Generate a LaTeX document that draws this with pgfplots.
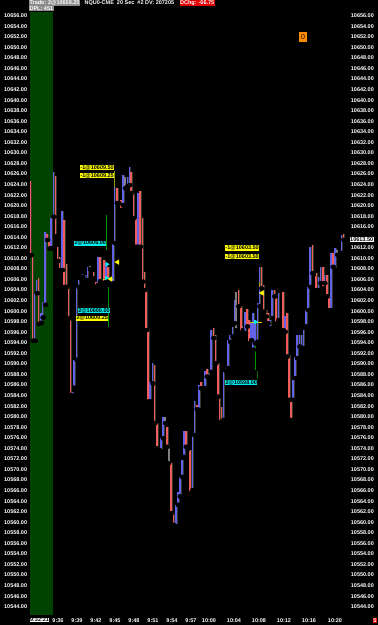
\documentclass[border=0pt]{standalone}
\usepackage{pgfplots}
\pgfplotsset{compat=1.18}
\usepackage{pgfplotstable}
\usepackage{fontspec}
\setmainfont{Liberation Sans}
\definecolor{bblue}{RGB}{98,98,232}
\definecolor{bred}{RGB}{240,92,92}
\definecolor{bgray}{RGB}{128,128,128}
\definecolor{bshadow}{RGB}{52,58,44}
\definecolor{dgreen}{RGB}{0,66,0}
\definecolor{tyellow}{RGB}{255,255,0}
\definecolor{tcyan}{RGB}{0,240,240}
\definecolor{torange}{RGB}{255,140,0}
\definecolor{tgreen}{RGB}{0,150,0}
\newcommand{\tf}{\fontsize{5.5}{6}\selectfont\bfseries}

\pgfplotstableread{
x lo hi
34.7 10594.4 10603.4
36.7 10603.4 10605.9
40.9 10597.8 10599.6
42.7 10598.8 10601.8
45.0 10601.2 10615.0
51.3 10611.9 10617.6
53.5 10617.9 10626.4
62.0 10607.8 10619.0
72.5 10583.8 10584.7
74.0 10585.5 10590.8
76.3 10590.8 10604.6
78.5 10604.6 10605.9
82.3 10606.5 10607.0
85.0 10605.9 10606.9
87.3 10605.9 10608.4
97.7 10605.0 10610.3
105.7 10605.6 10609.1
112.7 10605.3 10612.7
114.5 10612.9 10623.6
122.7 10620.1 10625.8
127.3 10623.7 10625.5
129.3 10623.9 10627.4
137.7 10612.2 10622.4
150.0 10582.9 10586.6
152.5 10586.3 10590.1
161.0 10573.4 10575.9
162.9 10575.9 10580.0
175.7 10559.2 10563.3
177.7 10563.3 10565.8
179.7 10564.9 10568.6
181.7 10568.6 10571.8
183.7 10572.4 10577.3
192.3 10566.1 10576.4
194.3 10576.5 10582.9
198.7 10581.3 10586.0
204.7 10585.4 10588.7
211.0 10588.5 10596.4
223.3 10579.4 10588.5
227.7 10589.2 10594.5
230.0 10594.2 10595.5
232.3 10595.2 10597.1
234.3 10597.7 10602.1
245.0 10595.8 10599.9
251.0 10594.5 10597.7
253.0 10592.7 10599.6
255.0 10593.9 10598.3
257.3 10594.2 10601.5
259.3 10600.9 10608.4
270.0 10596.8 10598.3
272.0 10598.7 10604.0
278.3 10598.3 10603.4
284.7 10596.1 10599.0
293.0 10583.2 10587.0
294.9 10587.3 10591.4
297.0 10591.1 10595.5
299.3 10593.3 10595.5
301.3 10593.0 10595.5
303.5 10593.0 10596.4
305.7 10597.1 10600.2
307.7 10600.2 10604.6
310.0 10604.6 10612.2
318.3 10604.0 10606.5
320.3 10605.3 10608.4
324.3 10605.3 10606.9
330.7 10600.2 10611.0
335.0 10607.8 10611.9
341.3 10611.0 10614.5
}\blueBars

\pgfplotstableread{
x lo hi
30.7 10610.6 10624.6
32.7 10594.4 10610.6
38.5 10597.6 10606.2
47.0 10613.5 10614.6
49.3 10611.9 10613.8
55.5 10614.2 10625.6
57.4 10609.5 10612.2
59.6 10607.8 10610.2
64.3 10604.6 10617.2
66.5 10604.6 10609.0
68.5 10598.6 10604.5
70.5 10584.1 10598.7
93.3 10606.2 10607.4
95.7 10604.6 10605.6
100.0 10605.7 10610.3
103.8 10605.3 10609.7
108.0 10605.9 10608.4
116.7 10620.5 10623.3
121.0 10619.2 10621.1
131.0 10622.4 10626.4
133.3 10617.6 10622.4
135.7 10612.2 10617.6
140.0 10612.2 10622.7
142.5 10605.6 10617.6
144.3 10604.0 10607.5
145.9 10596.4 10604.3
148.0 10582.9 10596.4
154.5 10578.8 10589.8
156.7 10574.0 10578.8
158.7 10573.7 10574.3
166.7 10574.3 10578.1
171.0 10561.7 10571.2
173.3 10559.5 10561.7
185.7 10574.3 10577.3
190.0 10565.5 10573.7
196.7 10581.4 10582.2
200.7 10585.4 10586.5
206.7 10587.6 10589.0
213.3 10594.9 10596.8
215.3 10590.1 10595.5
217.7 10583.8 10590.1
219.5 10578.9 10583.8
221.4 10579.1 10581.9
225.7 10588.7 10589.2
238.3 10600.9 10604.0
240.7 10595.8 10600.9
246.9 10597.1 10600.4
249.0 10593.9 10598.3
261.3 10604.3 10608.4
263.5 10599.9 10605.0
265.8 10599.0 10600.2
267.8 10597.7 10599.6
274.3 10602.8 10604.0
276.2 10597.7 10602.5
282.7 10596.4 10603.7
286.7 10591.4 10599.6
288.7 10583.2 10591.7
291.0 10579.4 10583.2
312.3 10607.2 10612.6
316.0 10604.0 10607.2
322.7 10604.3 10608.4
326.7 10602.8 10606.9
328.7 10600.2 10602.8
332.7 10608.4 10611.0
343.3 10613.5 10614.6
}\redBars

\pgfplotstableread{
x lo hi
80.7 10606.2 10606.7
90.0 10608.0 10608.5
119.3 10620.5 10620.8
125.0 10623.3 10625.5
165.0 10578.8 10580.0
169.0 10571.2 10574.6
187.7 10573.7 10574.3
202.7 10585.1 10585.4
209.0 10587.6 10588.2
236.0 10596.4 10603.7
242.7 10596.4 10597.2
314.0 10606.9 10607.5
337.0 10610.7 10611.6
339.3 10610.5 10611.3
345.3 10613.4 10613.8
}\grayBars

\pgfplotsset{
  base/.style={
    at={(30pt,10pt)}, anchor=south west, scale only axis,
    width=317pt, height=603pt,
    xmin=30, xmax=347, ymin=10542.43, ymax=10656.70,
    axis line style={draw=none}, major tick length=0pt,
    scaled y ticks=false, scaled x ticks=false,
    /pgf/number format/assume math mode=true,
    /pgf/number format/fixed,
    /pgf/number format/fixed zerofill,
    /pgf/number format/precision=2,
    /pgf/number format/1000 sep={},
    clip=false,
  },
  bars/.style={only marks, mark=none, forget plot,
    error bars/.cd, y dir=plus, y explicit, error mark=none,
    error bar style={#1}},
}

\begin{document}
\begin{tikzpicture}[x=1pt,y=1pt]
\fill[black] (0,0) rectangle (378,625);
% left axis with data
\begin{axis}[base,
  ytick={10544,10546,...,10656},
  yticklabel pos=left,
  yticklabel style={font=\tf, text=white, anchor=east, inner sep=0pt, xshift=-2.7pt},
  xtick={58,77,96,115,134,153,172,191,209,234,259,284,309,335},
  xticklabels={9:36,9:39,9:42,9:45,9:48,9:51,9:54,9:57,10:00,10:04,10:08,10:12,10:16,10:20},
  xticklabel style={font=\tf, text=white, anchor=north, inner sep=0pt, yshift=-3pt},
]
\fill[dgreen] (axis cs:30,10542.43) rectangle (axis cs:52.7,10656.70);
% shadow columns
\addplot[bars={draw=bshadow, line width=0.6pt}] table[x expr=\thisrow{x}+1.1, y=lo, y error plus expr=\thisrow{hi}-\thisrow{lo}] {\blueBars};
\addplot[bars={draw=bshadow, line width=0.6pt}] table[x expr=\thisrow{x}+1.1, y=lo, y error plus expr=\thisrow{hi}-\thisrow{lo}] {\redBars};
\addplot[bars={draw=bblue, line width=1.6pt}] table[x=x, y=lo, y error plus expr=\thisrow{hi}-\thisrow{lo}] {\blueBars};
\addplot[bars={draw=bred, line width=1.6pt}] table[x=x, y=lo, y error plus expr=\thisrow{hi}-\thisrow{lo}] {\redBars};
\addplot[bars={draw=bgray, line width=1.4pt}] table[x=x, y=lo, y error plus expr=\thisrow{hi}-\thisrow{lo}] {\grayBars};
% trade lines
\addplot[tgreen, line width=0.6pt, forget plot] coordinates {(106,10618.2) (106,10611.6)};
\addplot[tgreen, line width=0.6pt, forget plot] coordinates {(108.3,10604.6) (108.3,10597.0)};
\addplot[tgreen, line width=0.6pt, forget plot] coordinates {(255,10593.4) (255,10588.8)};
\addplot[tgreen!70!black, line width=0.6pt, forget plot] coordinates {(257.3,10588.6) (257.3,10587.2)};
\addplot[tyellow!60!black, line width=0.5pt, forget plot] coordinates {(114.3,10626.6) (114.3,10623.6)};
\addplot[tyellow!60!black, line width=0.5pt, forget plot] coordinates {(259.5,10605.5) (259.5,10604.5)};
\addplot[tyellow!80!black, line width=0.5pt, forget plot] coordinates {(100,10606.1) (113,10606.1)};
\addplot[tyellow!80!black, line width=0.5pt, forget plot] coordinates {(250,10597.95) (262,10597.95)};
% trade markers
\addplot[only marks, mark=triangle*, mark size=2.6pt, mark options={rotate=90, fill=tyellow, draw=tyellow}, forget plot]
  coordinates {(117.5,10609.3) (110.5,10606.1) (262,10603.45)};
\addplot[only marks, mark=triangle*, mark size=2.2pt, mark options={rotate=-90, fill=tcyan, draw=tcyan}, forget plot]
  coordinates {(107,10608.9) (106.5,10606.3) (255.5,10597.95)};
\end{axis}
% right axis labels (10614.00 is hidden behind the current price box)
\begin{axis}[base,
  ytick={10544,10546,...,10612,10616,10618,...,10656},
  yticklabel pos=right, xtick=\empty,
  yticklabel style={font=\tf, text=white, anchor=west, inner sep=0pt, xshift=3.7pt},
]
\addplot[draw=none, forget plot] coordinates {(40,10600)};
\end{axis}
% header
\node[anchor=north west, fill=black!45, text=white, inner sep=0.4pt, font=\tf] at (29,625) {Trade: 2@10659.25};
\node[anchor=north west, text=white, inner sep=0.4pt, font=\tf] at (84,625) {NQU0-CME\ \ 20 Sec\ \ \#2 DV: 207205};
\node[anchor=north west, fill=red!90!black, text=white, inner sep=0.4pt, font=\tf] at (179.5,625) {DChg: -66.75};
\node[anchor=north west, fill=black!45, text=white, inner sep=0.4pt, font=\tf] at (29,619) {DPL: 451};
% orange box
\node[fill=torange, text=black, inner sep=1pt, minimum width=8pt, minimum height=10pt, font=\fontsize{7}{8}\selectfont] at (303,588.3) {0};
% current price
\node[anchor=west, fill=white, text=black, inner sep=0.5pt, font=\tf] at (349.5,385.2) {10613.50};
% trade labels
\node[anchor=west, fill=tyellow, text=black, inner sep=0.4pt, font=\tf] at (80,457.5) {-1@10609.50};
\node[anchor=west, fill=tyellow, text=black, inner sep=0.4pt, font=\tf] at (80,449.3) {-1@10609.25};
\node[anchor=west, fill=tcyan, text=black, inner sep=0.4pt, font=\tf] at (74,381.7) {2@10606.00};
\node[anchor=west, fill=tcyan, text=black, inner sep=0.4pt, font=\tf] at (77.7,314.5) {2@10600.00};
\node[anchor=west, fill=tyellow, text=black, inner sep=0.4pt, font=\tf] at (76,306.7) {2@10600.25};
\node[anchor=west, fill=tyellow, text=black, inner sep=0.4pt, font=\tf] at (225,377) {-1@10603.50};
\node[anchor=west, fill=tyellow, text=black, inner sep=0.4pt, font=\tf] at (225,368.3) {-1@10603.50};
\node[anchor=west, fill=tcyan, text=black, inner sep=0.4pt, font=\tf] at (225,242.5) {2@10598.00};
% bottom
\node[anchor=north west, fill=white, text=black, inner sep=0.4pt, font=\tf] at (29.5,7.5) {9:32:21};
\node[fill=red, text=white, inner sep=0.6pt, font=\tf] at (375,4.5) {5};
\end{tikzpicture}
\end{document}
